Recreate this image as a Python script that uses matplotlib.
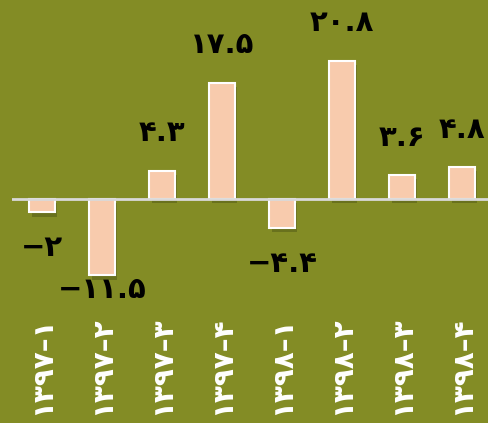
import matplotlib
matplotlib.use("Agg")
import matplotlib.pyplot as plt
import matplotlib.patheffects as pe

categories = ["۱۳۹۷–۱", "۱۳۹۷–۲", "۱۳۹۷–۳", "۱۳۹۷–۴",
              "۱۳۹۸–۱", "۱۳۹۸–۲", "۱۳۹۸–۳", "۱۳۹۸–۴"]
values = [-2, -11.5, 4.3, 17.5, -4.4, 20.8, 3.6, 4.8]

BG = "#838C25"
BAR = "#F8CBAD"

fa_digits = str.maketrans("0123456789-", "۰۱۲۳۴۵۶۷۸۹−")

def fa(v):
    s = ("%g" % v)
    return s.translate(fa_digits)

fig = plt.figure(figsize=(4.88, 4.23), dpi=100, facecolor=BG)
ax = fig.add_axes([12/488, (423-300)/423, 1 - 12/488, 300/423])
ax.set_facecolor(BG)

x = list(range(len(categories)))
bars = ax.bar(x, values, width=0.42, color=BAR, edgecolor="white", linewidth=1.5, zorder=3)
for b in bars:
    b.set_path_effects([pe.SimplePatchShadow(offset=(2, -3), shadow_rgbFace="#3a3f10", alpha=0.35), pe.Normal()])

ax.axhline(0, color="#D9D9D9", linewidth=2, zorder=4)

floor = -11.6
for xi, v in zip(x, values):
    if v >= 0:
        ax.annotate(fa(v), (xi, v), xytext=(0, 17), textcoords="offset points",
                    ha="center", va="bottom", fontsize=21, fontweight="bold",
                    color="black", family=["DejaVu Sans"])
    else:
        ytop = max(v - 3.2, floor)
        ax.text(xi, ytop, fa(v), ha="center", va="top", fontsize=21,
                fontweight="bold", color="black", family=["DejaVu Sans"])

ax.set_xlim(-0.5, 7.5 - 4/60)
ax.set_ylim(-15.2, 30.0)
ax.set_xticks(x)
ax.set_xticklabels(categories, rotation=90, color="white", fontsize=20,
                   fontweight="bold", family=["DejaVu Sans"])
ax.tick_params(axis="x", length=0, pad=12)
ax.set_yticks([])
for s in ax.spines.values():
    s.set_visible(False)

fig.savefig("out.png", dpi=100, facecolor=BG)
